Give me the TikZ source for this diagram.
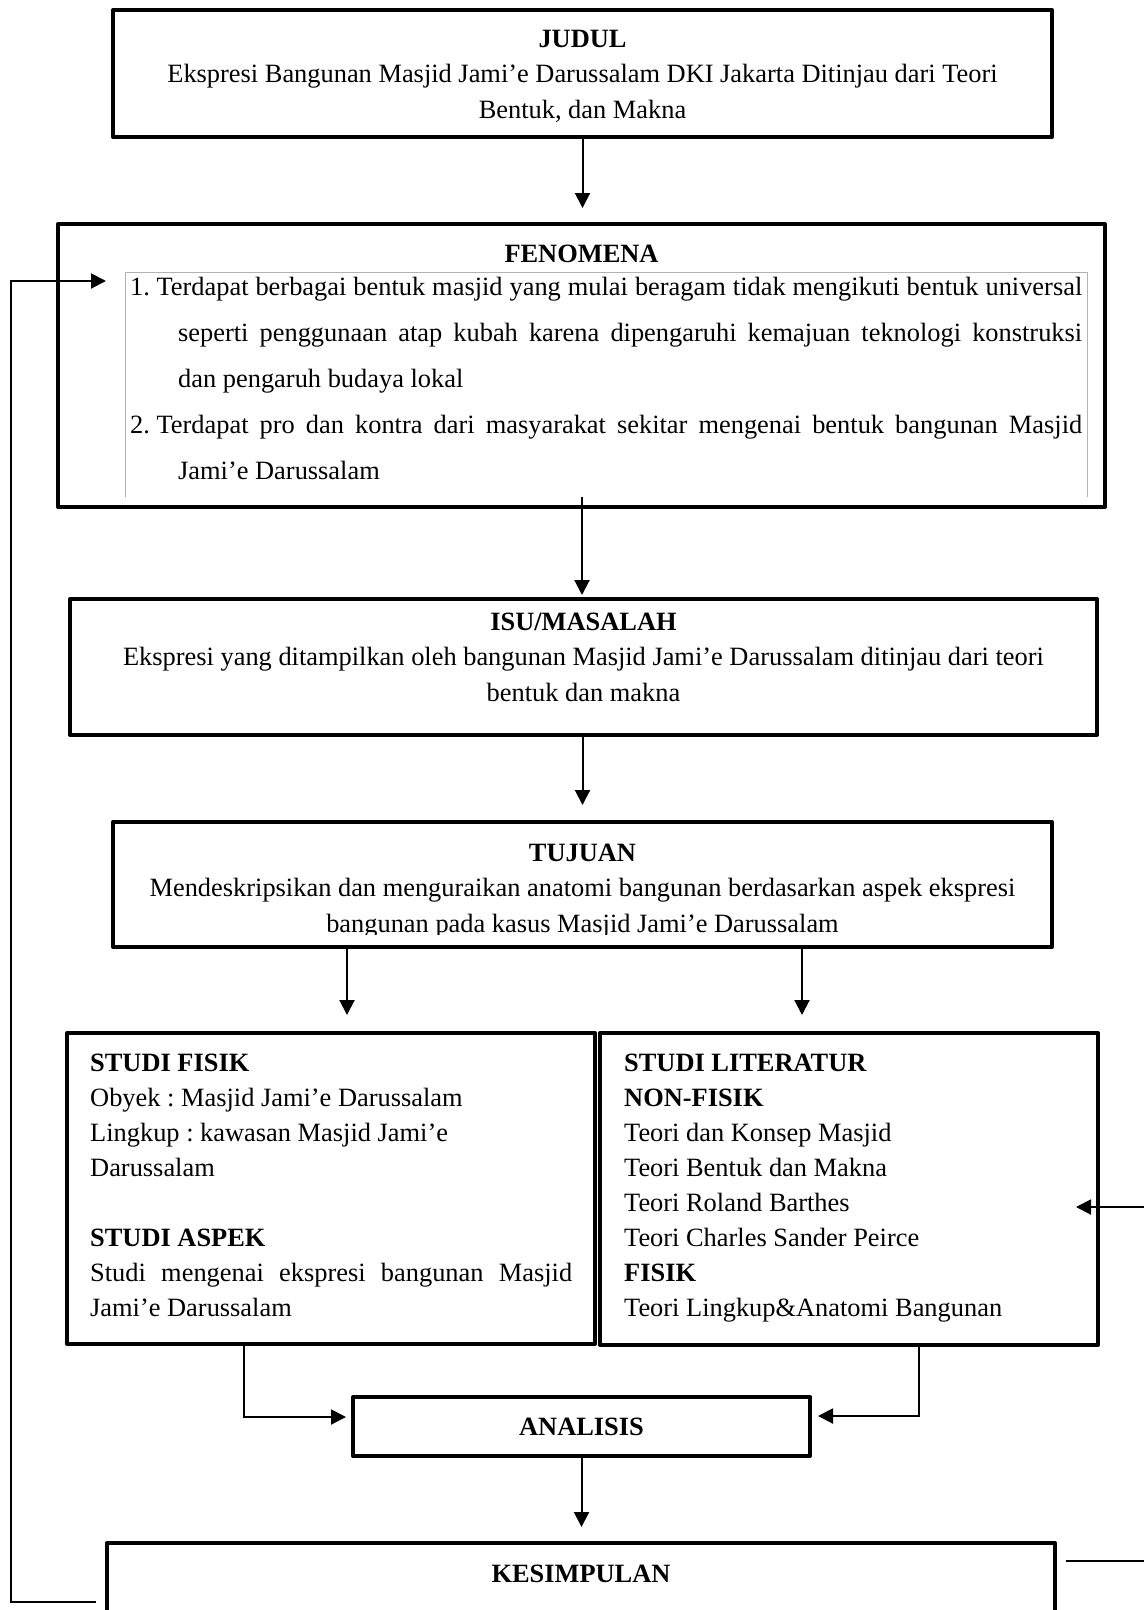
\documentclass[tikz,border=0pt]{standalone}
\usepackage{fontspec}
\setmainfont{Liberation Serif}
\usetikzlibrary{arrows.meta}
\newcommand\fsz{\fontsize{26.4}{35}\selectfont\frenchspacing}
\begin{document}
\begin{tikzpicture}[x=1pt,y=-1pt,
  box/.style={draw=black,line width=4pt,inner sep=0pt,line join=round},
  conn/.style={line width=2pt,-{Triangle[length=15pt,width=15pt]}},
  plain/.style={line width=2pt},
  tl/.style={inner sep=0pt,anchor=base west,font=\fsz},
  tc/.style={inner sep=0pt,anchor=base,font=\fsz},
  bl/.style={tl,font=\fsz\bfseries},
  bc/.style={tc,font=\fsz\bfseries}
]
\useasboundingbox (0,0) rectangle (1144,1610);
\clip (0,0) rectangle (1144,1610);

% boxes
\node[box,minimum width=939pt,minimum height=127pt] (judul) at (582.5,73.5) {};
\node[box,minimum width=1047pt,minimum height=283pt] (fenomena) at (581.5,365.5) {};
\node[box,minimum width=1027pt,minimum height=136pt] (isu) at (583.5,667) {};
\node[box,minimum width=939pt,minimum height=125pt] (tujuan) at (582.5,884.5) {};
\node[box,minimum width=528pt,minimum height=311pt] (fisik) at (331,1188.5) {};
\node[box,minimum width=498pt,minimum height=312pt] (literatur) at (849,1189) {};
\node[box,minimum width=457pt,minimum height=59pt] (analisis) at (581.5,1426.5) {};
\node[box,minimum width=948pt,minimum height=157pt] (kesimpulan) at (581,1621.5) {};

% inner thin box of FENOMENA
\draw[black!30,line width=1pt] (125,497) -- (125,272) -- (1087,272) -- (1087,497);

% JUDUL text
\node[bc] (judulT) at (582.5,47) {JUDUL};
\node[tc] (judul1) at (582.5,82) {Ekspresi Bangunan Masjid Jami’e Darussalam DKI Jakarta Ditinjau dari Teori};
\node[tc] (judul2) at (582.5,118) {Bentuk, dan Makna};

% FENOMENA text
\node[bc] (fenT) at (581.5,262) {FENOMENA};
\node[tl] (fen1) at (130,295) {\makebox[952pt][s]{1.\hspace{6.6pt}Terdapat berbagai bentuk masjid yang mulai beragam tidak mengikuti bentuk universal}};
\node[tl] (fen2) at (178,341) {\makebox[904pt][s]{seperti penggunaan atap kubah karena dipengaruhi kemajuan teknologi konstruksi}};
\node[tl] (fen3) at (178,387) {dan pengaruh budaya lokal};
\node[tl] (fen4) at (130,433) {\makebox[952pt][s]{2.\hspace{6.6pt}Terdapat pro dan kontra dari masyarakat sekitar mengenai bentuk bangunan Masjid}};
\node[tl] (fen5) at (178,479) {Jami’e Darussalam};

% ISU text
\node[bc] (isuT) at (583.5,630) {ISU/MASALAH};
\node[tc] (isu1) at (583.5,665) {Ekspresi yang ditampilkan oleh bangunan Masjid Jami’e Darussalam ditinjau dari teori};
\node[tc] (isu2) at (583.5,701) {bentuk dan makna};

% TUJUAN text
\node[bc] (tujT) at (582.5,861) {TUJUAN};
\node[tc] (tuj1) at (582.5,896) {Mendeskripsikan dan menguraikan anatomi bangunan berdasarkan aspek ekspresi};
\begin{scope}
\clip (0,0) rectangle (1144,934);
\node[tc] (tuj2) at (582.5,932) {bangunan pada kasus Masjid Jami’e Darussalam};
\end{scope}

% STUDI FISIK text
\node[bl] (fisT) at (90,1071) {STUDI FISIK};
\node[tl] (fis1) at (90,1106) {Obyek : Masjid Jami’e Darussalam};
\node[tl] (fis2) at (90,1141) {Lingkup : kawasan Masjid Jami’e};
\node[tl] (fis3) at (90,1176) {Darussalam};
\node[bl] (aspT) at (90,1246) {STUDI ASPEK};
\node[tl] (asp1) at (90,1281) {\makebox[482pt][s]{Studi mengenai ekspresi bangunan Masjid}};
\node[tl] (asp2) at (90,1316) {Jami’e Darussalam};

% STUDI LITERATUR text
\node[bl] (litT) at (624,1071) {STUDI LITERATUR};
\node[bl] (litN) at (624,1106) {NON-FISIK};
\node[tl] (lit1) at (624,1141) {Teori dan Konsep Masjid};
\node[tl] (lit2) at (624,1176) {Teori Bentuk dan Makna};
\node[tl] (lit3) at (624,1211) {Teori Roland Barthes};
\node[tl] (lit4) at (624,1246) {Teori Charles Sander Peirce};
\node[bl] (litF) at (624,1281) {FISIK};
\node[tl] (lit5) at (624,1316) {Teori Lingkup\&Anatomi Bangunan};

% ANALISIS, KESIMPULAN text
\node[bc] (anaT) at (581.5,1435) {ANALISIS};
\node[bc] (kesT) at (581,1582) {KESIMPULAN};

% helper coordinates
\coordinate (fenout) at (582,497);
\coordinate (tujL) at (347,947);
\coordinate (tujR) at (802,947);
\coordinate (fisOut) at (244,1344);
\coordinate (ainL) at (346,1417);
\coordinate (litOut) at (919,1345);
\coordinate (ainR) at (818,1416);
\coordinate (rightIn) at (1144,1207);
\coordinate (litIn) at (1076,1207);
\coordinate (fbStart) at (96,1602);
\coordinate (fbEnd) at (106,281);
\coordinate (kesR) at (1066,1561);
\coordinate (kesRend) at (1144,1561);

% connectors
\draw[conn,shorten >=14pt] (judul.south) -- (judul.south |- fenomena.north);
\draw[conn,shorten >=2pt] (fenout) -- (fenout |- isu.north);
\draw[conn,shorten >=15pt] (tujuan.north |- isu.south) -- (tujuan.north);
\draw[conn,shorten >=16pt] (tujL) -- (tujL |- fisik.north);
\draw[conn,shorten >=16pt] (tujR) -- (tujR |- literatur.north);
\draw[conn] (fisOut) |- (ainL);
\draw[conn] (litOut) |- (ainR);
\draw[conn,shorten >=14pt] (analisis.south) -- (analisis.south |- kesimpulan.north);
\draw[conn] (rightIn) -- (litIn);
\draw[conn] (fbStart) -- (11,1602) -- (11,281) -- (fbEnd);
\draw[plain] (kesR) -- (kesRend);
\end{tikzpicture}
\end{document}
